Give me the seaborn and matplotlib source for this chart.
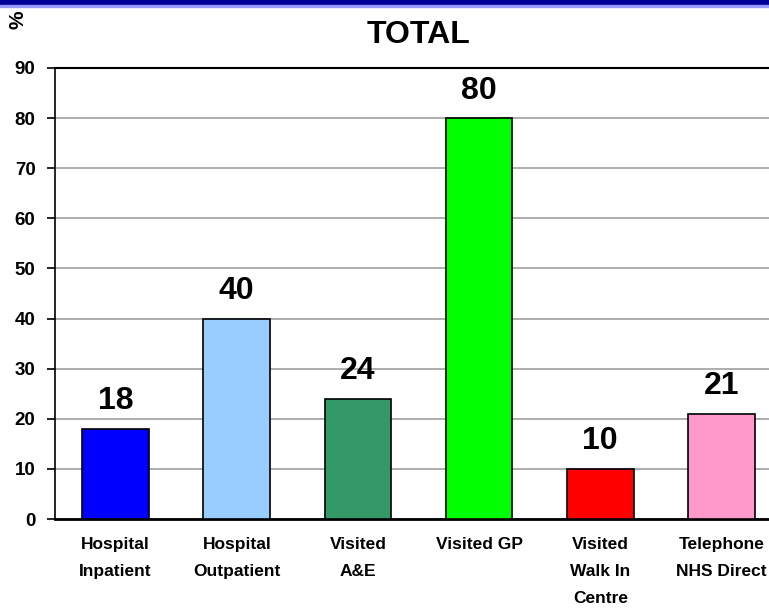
import matplotlib
matplotlib.use("Agg")
import matplotlib.pyplot as plt
import seaborn as sns
import pandas as pd
from matplotlib.patches import Rectangle

categories = ["Hospital\nInpatient", "Hospital\nOutpatient", "Visited\nA&E",
              "Visited GP", "Visited\nWalk In\nCentre", "Telephone\nNHS Direct"]
values = [18, 40, 24, 80, 10, 21]
colors = ["#0000FF", "#99CCFF", "#339966", "#00FF00", "#FF0000", "#FF99CC"]
y_ticks = [0, 10, 20, 30, 40, 50, 60, 70, 80, 90]

df = pd.DataFrame({"category": categories, "value": values})

sns.set_theme(style="white")
plt.rcParams['font.family'] = ['Liberation Sans', 'DejaVu Sans']
plt.rcParams['text.color'] = 'black'
plt.rcParams['xtick.color'] = 'black'
plt.rcParams['ytick.color'] = 'black'

fig = plt.figure(figsize=(7.69, 6.12), dpi=100)
ax = fig.add_axes([55 / 769, 93 / 612, 727 / 769, 451 / 612])

sns.barplot(
    data=df, x="category", y="value", hue="category",
    palette=colors, legend=False, width=0.55,
    edgecolor="black", linewidth=1.2, saturation=1, ax=ax, zorder=3
)

for cont in ax.containers:
    ax.bar_label(cont, fmt="%d", padding=9, fontsize=23, fontweight="bold", color="black")

ax.set_ylim(0, 90)
ax.set_xlim(-0.5, len(categories) - 0.5)
ax.set_yticks(y_ticks)
ax.set_yticklabels([str(t) for t in y_ticks], fontsize=13.5, fontweight="bold")
ax.yaxis.grid(True, color="#A0A0A0", linewidth=1.2, zorder=0)
ax.set_axisbelow(True)

ax.set_xticks(range(len(categories)))
ax.set_xticklabels(categories, fontsize=12.5, fontweight="bold", linespacing=2.0)
ax.tick_params(axis="x", length=0, pad=13)
ax.set_xticks([i - 0.5 for i in range(len(categories) + 1)], minor=True)
ax.tick_params(axis="x", which="minor", length=6, width=1.2, color="black", direction="out")
ax.tick_params(axis="y", length=6, width=1.2, color="black", direction="out", left=True, pad=8)

ax.set_xlabel("")
ax.set_ylabel("")
for side in ["left", "bottom", "top"]:
    ax.spines[side].set_color("black")
ax.spines["left"].set_linewidth(1.2)
ax.spines["top"].set_linewidth(1.5)
ax.spines["bottom"].set_linewidth(2)
ax.spines["right"].set_visible(False)

fig.text(419 / 769, 1 - 35 / 612, "TOTAL", ha="center", va="center",
         fontsize=23, fontweight="bold", color="black")
fig.text(18 / 769, 1 - 20 / 612, "%", ha="center", va="center",
         fontsize=15, fontweight="bold", rotation=90, color="black")

fig.patches.append(Rectangle((0, 1 - 5 / 612), 1, 5 / 612, transform=fig.transFigure,
                             color="#000099", zorder=5))
fig.patches.append(Rectangle((0, 1 - 7 / 612), 1, 2 / 612, transform=fig.transFigure,
                             color="#9999FF", zorder=5))

fig.savefig("out.png", dpi=100)
